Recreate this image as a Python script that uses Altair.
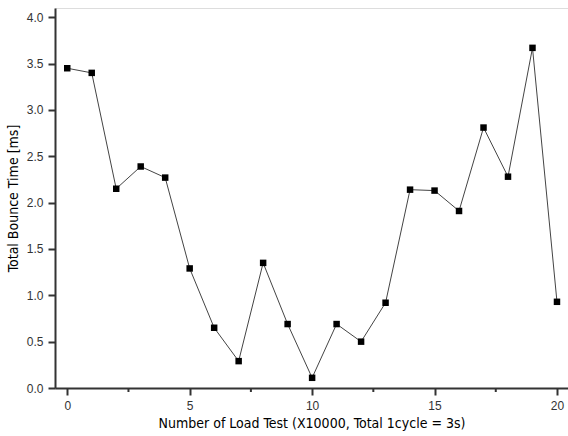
import altair as alt
import pandas as pd

load_test = list(range(21))
bounce_ms = [3.45, 3.40, 2.15, 2.39, 2.27, 1.29, 0.65, 0.29, 1.35, 0.69,
             0.11, 0.69, 0.50, 0.92, 2.14, 2.13, 1.91, 2.81, 2.28, 3.67, 0.93]
minor_x = [2.5, 7.5, 12.5, 17.5]

df = pd.DataFrame({"x": load_test, "y": bounce_ms})
dm = pd.DataFrame({"x": minor_x})

xs = alt.Scale(domain=[-0.5, 20.45], nice=False, zero=False)
ys = alt.Scale(domain=[0, 4.1], nice=False, zero=False)

title_font = "DejaVu Sans Condensed, Liberation Sans, sans-serif"

xaxis = alt.Axis(values=[0, 5, 10, 15, 20], title="Number of Load Test (X10000, Total 1cycle = 3s)",
                 grid=False, domainColor="#333333", domainWidth=2, tickColor="#333333",
                 tickWidth=2, tickSize=7, labelFont="Liberation Sans", labelFontSize=12,
                 labelColor="#333333", labelPadding=5, titleFont=title_font,
                 titleFontSize=14, titleFontWeight="normal", titleColor="#000000", titlePadding=5)
yaxis = alt.Axis(values=[0, 0.5, 1, 1.5, 2, 2.5, 3, 3.5, 4], format=".1f",
                 title="Total Bounce Time [ms]", grid=False, domainColor="#333333", domainWidth=2,
                 tickColor="#333333", tickWidth=2, tickSize=7, labelFont="Liberation Sans",
                 labelFontSize=12, labelColor="#333333", labelPadding=5,
                 titleFont=title_font, titleFontSize=14, titleFontWeight="normal",
                 titleColor="#000000", titlePadding=6)

line = alt.Chart(df).mark_line(color="#444444", strokeWidth=1).encode(
    x=alt.X("x:Q", scale=xs, axis=xaxis),
    y=alt.Y("y:Q", scale=ys, axis=yaxis),
)
pts = alt.Chart(df).mark_square(color="#000000", size=42, opacity=1).encode(
    x=alt.X("x:Q", scale=xs),
    y=alt.Y("y:Q", scale=ys),
)
minor = alt.Chart(dm).mark_rule(color="#333333", strokeWidth=2).encode(
    x=alt.X("x:Q", scale=xs),
    y=alt.value(380),
    y2=alt.value(384),
)

chart = alt.layer(line, pts, minor).properties(
    width=513, height=380,
    autosize=alt.AutoSizeParams(type="none"),
    padding={"left": 55, "top": 8, "right": 0, "bottom": 48},
).configure_view(stroke=None).configure(background="white")

chart.save("out.html", embed_options={"renderer": "svg", "actions": False})
